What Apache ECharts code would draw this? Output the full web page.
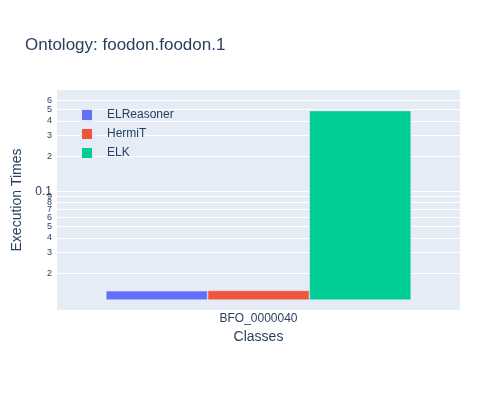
<!DOCTYPE html>
<html>
<head>
<meta charset="utf-8">
<script src="https://cdn.jsdelivr.net/npm/echarts@6/dist/echarts.min.js"></script>
<style>html,body{margin:0;padding:0;background:#fff}#c{width:500px;height:400px}</style>
</head>
<body>
<div id="c"></div>
<script>
var categories = ['BFO_0000040'];
var seriesNames = ['ELReasoner', 'HermiT', 'ELK'];
var elreasoner = [0.0141];
var hermit = [0.0142];
var elk = [0.489];
var tickValues = [0.02, 0.03, 0.04, 0.05, 0.06, 0.07, 0.08, 0.09, 0.1, 0.2, 0.3, 0.4, 0.5, 0.6];
var tickLabels = ['2', '3', '4', '5', '6', '7', '8', '9', '0.1', '2', '3', '4', '5', '6'];
var yMin = 0.00967, yMax = 0.734, barBase = 0.01178;

var font = '"Liberation Sans", Arial, sans-serif';
var txt = '#2a3f5f';
var colors = ['#636EFA', '#EF553B', '#00CC96'];
var data = [elreasoner, hermit, elk];

function labelFor(v) {
  for (var i = 0; i < tickValues.length; i++) {
    if (Math.abs(Math.log10(v) - Math.log10(tickValues[i])) < 1e-6) {
      return tickLabels[i].indexOf('.') >= 0 ? '{b|' + tickLabels[i] + '}' : '{s|' + tickLabels[i] + '}';
    }
  }
  return '';
}

var chart = echarts.init(document.getElementById('c'), null, {renderer: 'canvas'});
chart.setOption({
  animation: false,
  backgroundColor: '#fff',
  textStyle: {fontFamily: font},
  title: {
    text: 'Ontology: foodon.foodon.1',
    left: 20, top: 32,
    textStyle: {fontFamily: font, fontSize: 17, fontWeight: 'normal', color: txt}
  },
  legend: {
    orient: 'vertical',
    left: 75, top: 103,
    itemWidth: 12, itemHeight: 12, itemGap: 5,
    icon: 'rect',
    data: seriesNames,
    textStyle: {fontFamily: font, fontSize: 12, color: txt, padding: [0, 0, 0, 9]}
  },
  grid: {
    left: 57, right: 40, top: 90, bottom: 90,
    show: true, backgroundColor: '#E5ECF6', borderWidth: 0
  },
  xAxis: {
    type: 'category',
    data: categories,
    axisLine: {show: false},
    axisTick: {show: false},
    axisLabel: {margin: 3, fontSize: 12, color: txt, fontFamily: font},
    name: 'Classes',
    nameLocation: 'middle',
    nameGap: 18,
    nameTextStyle: {fontSize: 14, color: txt, fontFamily: font}
  },
  yAxis: {
    type: 'log',
    logBase: 10,
    min: yMin, max: yMax,
    startValue: barBase,
    axisLine: {show: false},
    axisTick: {show: false, customValues: tickValues},
    splitLine: {show: true, lineStyle: {color: '#fff', width: 1}},
    axisLabel: {
      customValues: tickValues,
      margin: 5,
      color: txt,
      fontFamily: font,
      formatter: function (v) { return labelFor(v); },
      rich: {
        b: {fontSize: 12, color: txt, fontFamily: font},
        s: {fontSize: 9, color: txt, fontFamily: font}
      }
    },
    name: 'Execution Times',
    nameLocation: 'middle',
    nameRotate: 90,
    nameGap: 32,
    nameTextStyle: {fontSize: 14, color: txt, fontFamily: font}
  },
  series: seriesNames.map(function (n, i) {
    return {
      name: n,
      type: 'bar',
      data: data[i],
      barWidth: 101.7,
      barGap: '0%',
      itemStyle: {color: colors[i], borderColor: '#E5ECF6', borderWidth: 0.5}
    };
  })
});
</script>
</body>
</html>
